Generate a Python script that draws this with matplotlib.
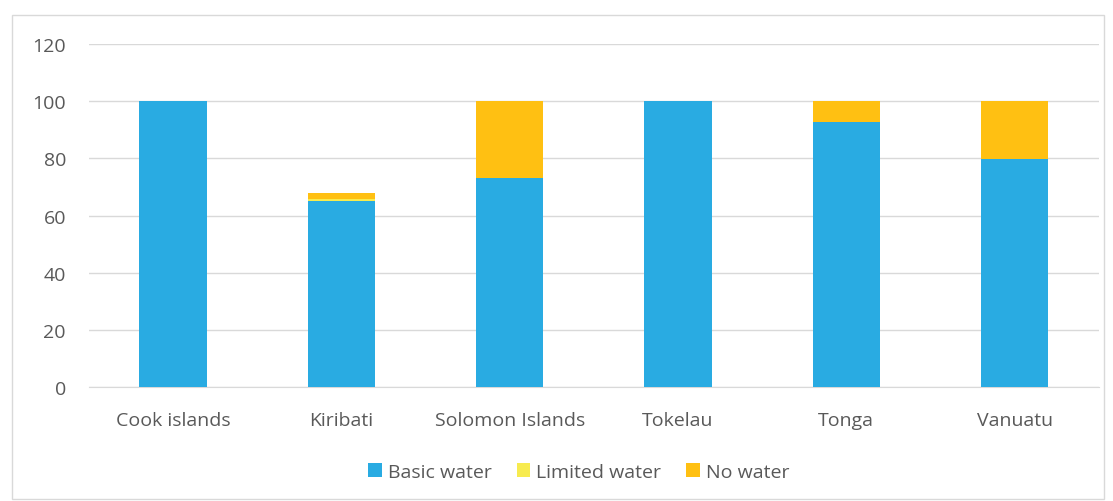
import matplotlib
matplotlib.use("Agg")
import matplotlib.pyplot as plt
from matplotlib.patches import Rectangle

countries = ["Cook islands", "Kiribati", "Solomon Islands", "Tokelau", "Tonga", "Vanuatu"]
basic = [100, 65.1, 73.2, 100, 92.7, 79.8]
limited = [0, 0.8, 0, 0, 0, 0]
no_water = [0, 2.1, 26.8, 0, 7.3, 20.2]

plt.rcParams["font.family"] = ["Open Sans", "DejaVu Sans"]
TXT = "#595959"

fig = plt.figure(figsize=(11.13, 5.02), dpi=100)
ax = fig.add_axes([0.0798, 0.227, 0.9075, 0.683])
fig.patches.append(Rectangle((12 / 1113, 2 / 502), 1092 / 1113, 484 / 502,
                             transform=fig.transFigure, fill=False,
                             edgecolor="#d9d9d9", lw=1))

x = range(len(countries))
w = 0.4
ax.bar(x, basic, w, color="#29abe2", label="Basic water", zorder=3)
ax.bar(x, limited, w, bottom=basic, color="#f7eb4f", label="Limited water", zorder=3)
bot2 = [b + l for b, l in zip(basic, limited)]
ax.bar(x, no_water, w, bottom=bot2, color="#ffc012", label="No water", zorder=3)

ax.set_xlim(-0.5, len(countries) - 0.5)
ax.set_ylim(0, 120)
ax.set_yticks(range(0, 121, 20))
ax.set_xticks(list(x))
ax.set_xticklabels(countries)
ax.grid(axis="y", color="#d9d9d9", lw=1, zorder=0)
for s in ["top", "right", "left"]:
    ax.spines[s].set_visible(False)
ax.spines["bottom"].set_color("#d9d9d9")
ax.tick_params(axis="both", length=0, colors=TXT, labelsize=14)
ax.tick_params(axis="y", pad=16.5)
ax.tick_params(axis="x", pad=17.5)

leg = ax.legend(loc="upper center", bbox_to_anchor=(0.485, -0.17), ncol=3,
                frameon=False, fontsize=14, handlelength=0.7, handleheight=0.7,
                handletextpad=0.3, columnspacing=1.3)
for t in leg.get_texts():
    t.set_color(TXT)

fig.savefig("out.png", dpi=100)
